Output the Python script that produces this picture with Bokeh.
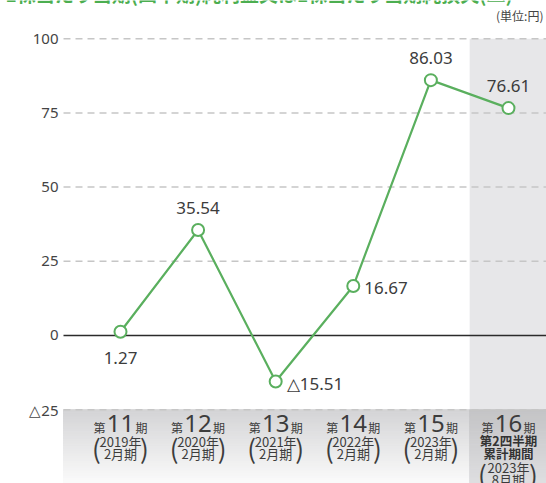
import numpy as np
from bokeh.plotting import figure
from bokeh.models import ColumnDataSource, Range1d
from bokeh.core.properties import value
from bokeh.embed import file_html
from bokeh.resources import INLINE

# ---------------- data ----------------
periods = ["11", "12", "13", "14", "15", "16"]
fiscal_years = ["2019年", "2020年", "2021年", "2022年", "2023年", "2023年"]
fiscal_months = ["2月期", "2月期", "2月期", "2月期", "2月期", "8月期"]
cumulative_note = ["第2四半期", "累計期間"]
eps = [1.27, 35.54, -15.51, 16.67, 86.03, 76.61]
y_ticks = [-25, 0, 25, 50, 75, 100]
y_tick_labels = ["△25", "0", "25", "50", "75", "100"]
title_text = "1株当たり当期(四半期)純利益又は1株当たり当期純損失(△)"
unit_text = "(単位:円)"

# ---------------- style ----------------
GREEN = "#5aaf5e"
TXT = "#3c3c3c"
CJK = value("Noto Sans CJK JP")
NUM = value("Noto Sans")
label_place = ["below", "above", "right", "right", "above", "above"]
place_style = {
    "below": (0, 26, "center"),
    "above": (0, -22, "center"),
    "right": (11, 2, "left"),
}

idx = list(range(len(periods)))
n = len(periods)
x_view_min, x_plot_left, x_max = -1.5464, -0.7345, n - 0.51
y_min, y_max = -49.87, 112.87

p = figure(width=546, height=483,
           x_range=Range1d(x_view_min, x_max), y_range=Range1d(y_min, y_max),
           output_backend="svg", toolbar_location=None,
           x_axis_location=None, y_axis_location=None,
           min_border_left=0, min_border_right=0, min_border_top=0, min_border_bottom=0)
p.outline_line_color = None
p.background_fill_color = "white"
p.border_fill_color = "white"
p.xgrid.visible = False
p.ygrid.visible = False

last = n - 1
low = y_ticks[0]
top = y_ticks[-1]

# highlighted band for the latest (cumulative) period
p.quad(left=[last - 0.5], right=[x_max], bottom=[low], top=[top],
       fill_color="#e7e7e9", line_color=None, level="image")

# gradient background under category labels
steps = 30
edges = np.linspace(low, y_min, steps + 1)
t = np.linspace(0, 1, steps)
def mix(c0, c1, f):
    return "#%02x%02x%02x" % tuple(int(round(a + (b - a) * f)) for a, b in zip(c0, c1))
left_cols = [mix((212, 212, 214), (250, 250, 250), f) for f in t]
right_cols = [mix((196, 196, 198), (222, 222, 224), f) for f in t]
p.quad(left=[x_plot_left] * steps, right=[last - 0.5] * steps, top=edges[:-1], bottom=edges[1:],
       fill_color=left_cols, line_color=left_cols, level="image")
p.quad(left=[last - 0.5] * steps, right=[x_max] * steps, top=edges[:-1], bottom=edges[1:],
       fill_color=right_cols, line_color=right_cols, level="image")

# grid lines (dashed) and zero line (solid)
gt = [v for v in y_ticks if v != 0]
p.segment(x0=[x_plot_left] * len(gt), y0=gt, x1=[x_max] * len(gt), y1=gt,
          line_color="#c6c6c6", line_width=1.5, line_dash="7 5", level="underlay")
p.segment(x0=[x_plot_left], y0=[0], x1=[x_max], y1=[0],
          line_color="#2b2b2b", line_width=1.5, level="underlay")

# y tick labels
p.text([x_plot_left] * len(y_ticks), y_ticks, text=y_tick_labels, x_offset=-5,
       text_align="right", text_baseline="middle", text_font=NUM,
       text_font_size="15px", text_color="#444444")

# series
p.line(idx, eps, line_color=GREEN, line_width=2.2)
p.scatter(idx, eps, size=12, fill_color="white", line_color=GREEN, line_width=2)

# value labels
lab_txt = [("△%.2f" % abs(v)) if v < 0 else ("%.2f" % v) for v in eps]
src = ColumnDataSource(dict(
    x=idx, y=eps, text=lab_txt,
    xo=[place_style[k][0] for k in label_place],
    yo=[place_style[k][1] for k in label_place],
    al=[place_style[k][2] for k in label_place],
))
p.text("x", "y", text="text", source=src, x_offset="xo", y_offset="yo",
       text_align="al", text_baseline="middle", text_font=NUM,
       text_font_size="17px", text_color=TXT)

# category labels
ylow = [low] * n
p.text(idx, ylow, text=periods, x_offset=0, y_offset=14, text_align="center",
       text_baseline="middle", text_font=NUM, text_font_size="24px", text_color=TXT)
p.text(idx, ylow, text=["第"] * n, x_offset=-15, y_offset=18, text_align="right",
       text_baseline="middle", text_font=CJK, text_font_size="12px", text_color=TXT)
p.text(idx, ylow, text=["期"] * n, x_offset=15, y_offset=18, text_align="left",
       text_baseline="middle", text_font=CJK, text_font_size="12px", text_color=TXT)

reg = idx[:-1]
p.text(reg, ylow[:-1], text=fiscal_years[:-1], y_offset=32, text_align="center",
       text_baseline="middle", text_font=CJK, text_font_size="13px", text_color=TXT)
p.text(reg, ylow[:-1], text=fiscal_months[:-1], y_offset=43.5, text_align="center",
       text_baseline="middle", text_font=CJK, text_font_size="13px", text_color=TXT)
p.text(reg, ylow[:-1], text=["("] * (n - 1), x_offset=-24, y_offset=38, text_align="center",
       text_baseline="middle", text_font=CJK, text_font_size="26px", text_color=TXT)
p.text(reg, ylow[:-1], text=[")"] * (n - 1), x_offset=24, y_offset=38, text_align="center",
       text_baseline="middle", text_font=CJK, text_font_size="26px", text_color=TXT)

# latest period (cumulative)
p.text([last], [low], text=[cumulative_note[0]], y_offset=31, text_align="center",
       text_baseline="middle", text_font=CJK, text_font_size="12.5px", text_font_style="bold",
       text_color="#333333")
p.text([last], [low], text=[cumulative_note[1]], y_offset=44, text_align="center",
       text_baseline="middle", text_font=CJK, text_font_size="12.5px", text_font_style="bold",
       text_color="#333333")
p.text([last], [low], text=[fiscal_years[-1]], y_offset=58, text_align="center",
       text_baseline="middle", text_font=CJK, text_font_size="13px", text_color=TXT)
p.text([last], [low], text=[fiscal_months[-1]], y_offset=70, text_align="center",
       text_baseline="middle", text_font=CJK, text_font_size="13px", text_color=TXT)
p.text([last], [low], text=["("], x_offset=-26, y_offset=64, text_align="center",
       text_baseline="middle", text_font=CJK, text_font_size="26px", text_color=TXT)
p.text([last], [low], text=[")"], x_offset=25, y_offset=64, text_align="center",
       text_baseline="middle", text_font=CJK, text_font_size="26px", text_color=TXT)

# title (partly cut at the top) and unit
p.text([x_view_min], [y_max], text=[title_text], x_offset=5, y_offset=6,
       text_baseline="bottom", text_align="left", text_font=CJK,
       text_font_size="19px", text_font_style="bold", text_color="#4cae50")
p.text([x_max], [y_max], text=[unit_text], x_offset=-3, y_offset=15,
       text_baseline="middle", text_align="right", text_font=CJK,
       text_font_size="12px", text_color="#444444")

open("out.html", "w").write(file_html(p, INLINE))
